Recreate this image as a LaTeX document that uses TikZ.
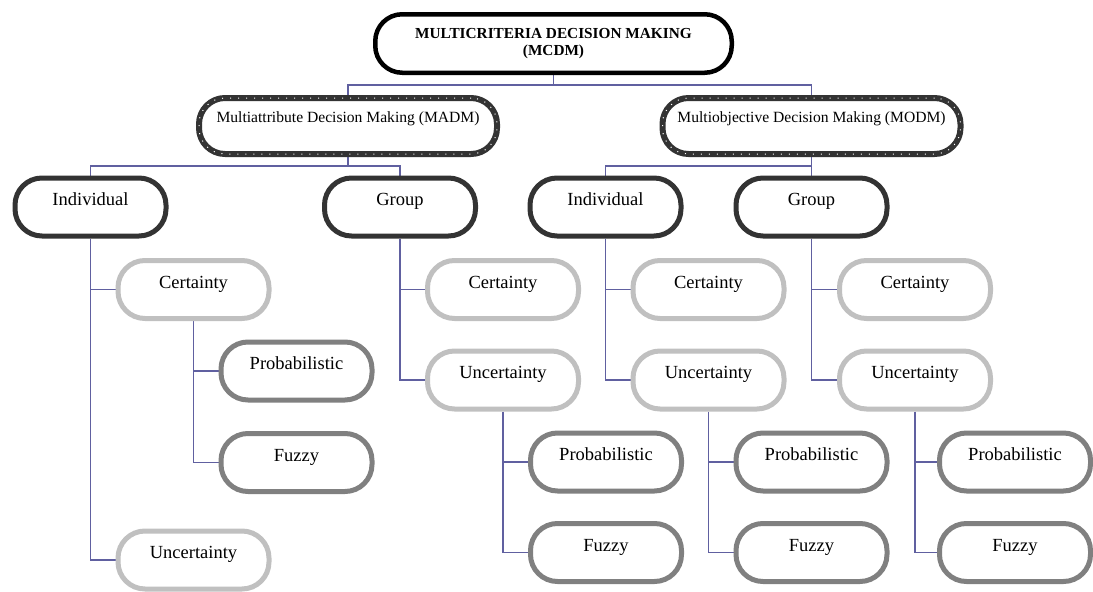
\documentclass[tikz,border=0pt]{standalone}
\usepackage{fontspec}
\setmainfont{Liberation Serif}
\usetikzlibrary{backgrounds}
\definecolor{conn}{RGB}{96,96,160}
\definecolor{darkbox}{RGB}{51,51,51}
\definecolor{lightbox}{RGB}{192,192,192}
\definecolor{midbox}{RGB}{128,128,128}
\begin{document}
\begin{tikzpicture}[x=1pt,y=-1pt,
  nbox/.style={rounded corners=27pt, fill=white, line width=5pt, minimum width=151pt, minimum height=58pt, inner sep=0pt, text height=9.5pt, text depth=12.5pt, font=\fontsize{18.5}{22}\selectfont},
  lvl/.style={nbox, draw=darkbox},
  cert/.style={nbox, draw=lightbox},
  leaf/.style={nbox, draw=midbox},
  topbox/.style={draw=black, fill=white, line width=4.5pt, rounded corners=27pt, minimum width=356.5pt, minimum height=58.5pt, inner sep=0pt, align=center, font=\bfseries\fontsize{15.3}{16.5}\selectfont},
  mobox/.style={draw=darkbox, fill=white, line width=6pt, rounded corners=26pt, minimum width=298pt, minimum height=56pt, inner sep=0pt, text height=8pt, text depth=16pt, font=\fontsize{15.6}{18}\selectfont, postaction={draw=white, line width=1pt, dash pattern=on 1pt off 7pt}},
  link/.style={draw=conn, line width=1.4pt}
]
\useasboundingbox (0,0) rectangle (1093,592);
% top
\node[topbox] (mcdm) at (553.5,43.5) {MULTICRITERIA DECISION MAKING\\(MCDM)};
\node[mobox] (madm) at (348,126) {Multiattribute Decision Making (MADM)};
\node[mobox] (modm) at (811.5,126) {Multiobjective Decision Making (MODM)};
% level 2
\node[lvl] (indA) at (90.5,207) {Individual};
\node[lvl] (grpA) at (400,207) {Group};
\node[lvl] (indO) at (605.5,207) {Individual};
\node[lvl] (grpO) at (811.5,207) {Group};
% Individual MADM subtree
\node[cert] (certIA) at (193.5,289.5) {Certainty};
\node[leaf] (probIA) at (296.5,371) {Probabilistic};
\node[leaf] (fuzzIA) at (296.5,462.5) {Fuzzy};
\node[cert] (uncIA) at (193.5,560) {Uncertainty};
% Group MADM subtree
\node[cert] (certGA) at (503,289.5) {Certainty};
\node[cert] (uncGA) at (503,380) {Uncertainty};
\node[leaf] (probGA) at (606,462) {Probabilistic};
\node[leaf] (fuzzGA) at (606,552.5) {Fuzzy};
% Individual MODM subtree
\node[cert] (certIO) at (708.5,289.5) {Certainty};
\node[cert] (uncIO) at (708.5,380) {Uncertainty};
\node[leaf] (probIO) at (811.5,462) {Probabilistic};
\node[leaf] (fuzzIO) at (811.5,552.5) {Fuzzy};
% Group MODM subtree
\node[cert] (certGO) at (915,289.5) {Certainty};
\node[cert] (uncGO) at (915,380) {Uncertainty};
\node[leaf] (probGO) at (1015,462) {Probabilistic};
\node[leaf] (fuzzGO) at (1015,552.5) {Fuzzy};
% connectors
\begin{pgfonlayer}{background}
\coordinate (bus0) at (mcdm.south |- 0,85);
\coordinate (busA) at (madm.south |- 0,166);
\coordinate (busO) at (modm.south |- 0,166);
\draw[link] (mcdm.south) -- (bus0);
\draw[link] (madm.north) |- (bus0) -| (modm.north);
\draw[link] (madm.south) -- (busA);
\draw[link] (indA.north) |- (busA) -| (grpA.north);
\draw[link] (modm.south) -- (grpO.north);
\draw[link] (indO.north) |- (busO);
% Individual MADM
\draw[link] (indA.south) |- (certIA.west);
\draw[link] (indA.south) |- (uncIA.west);
\draw[link] (certIA.south) |- (probIA.west);
\draw[link] (certIA.south) |- (fuzzIA.west);
% Group MADM
\draw[link] (grpA.south) |- (certGA.west);
\draw[link] (grpA.south) |- (uncGA.west);
\draw[link] (uncGA.south) |- (probGA.west);
\draw[link] (uncGA.south) |- (fuzzGA.west);
% Individual MODM
\draw[link] (indO.south) |- (certIO.west);
\draw[link] (indO.south) |- (uncIO.west);
\draw[link] (uncIO.south) |- (probIO.west);
\draw[link] (uncIO.south) |- (fuzzIO.west);
% Group MODM
\draw[link] (grpO.south) |- (certGO.west);
\draw[link] (grpO.south) |- (uncGO.west);
\draw[link] (uncGO.south) |- (probGO.west);
\draw[link] (uncGO.south) |- (fuzzGO.west);
\end{pgfonlayer}
\end{tikzpicture}
\end{document}
